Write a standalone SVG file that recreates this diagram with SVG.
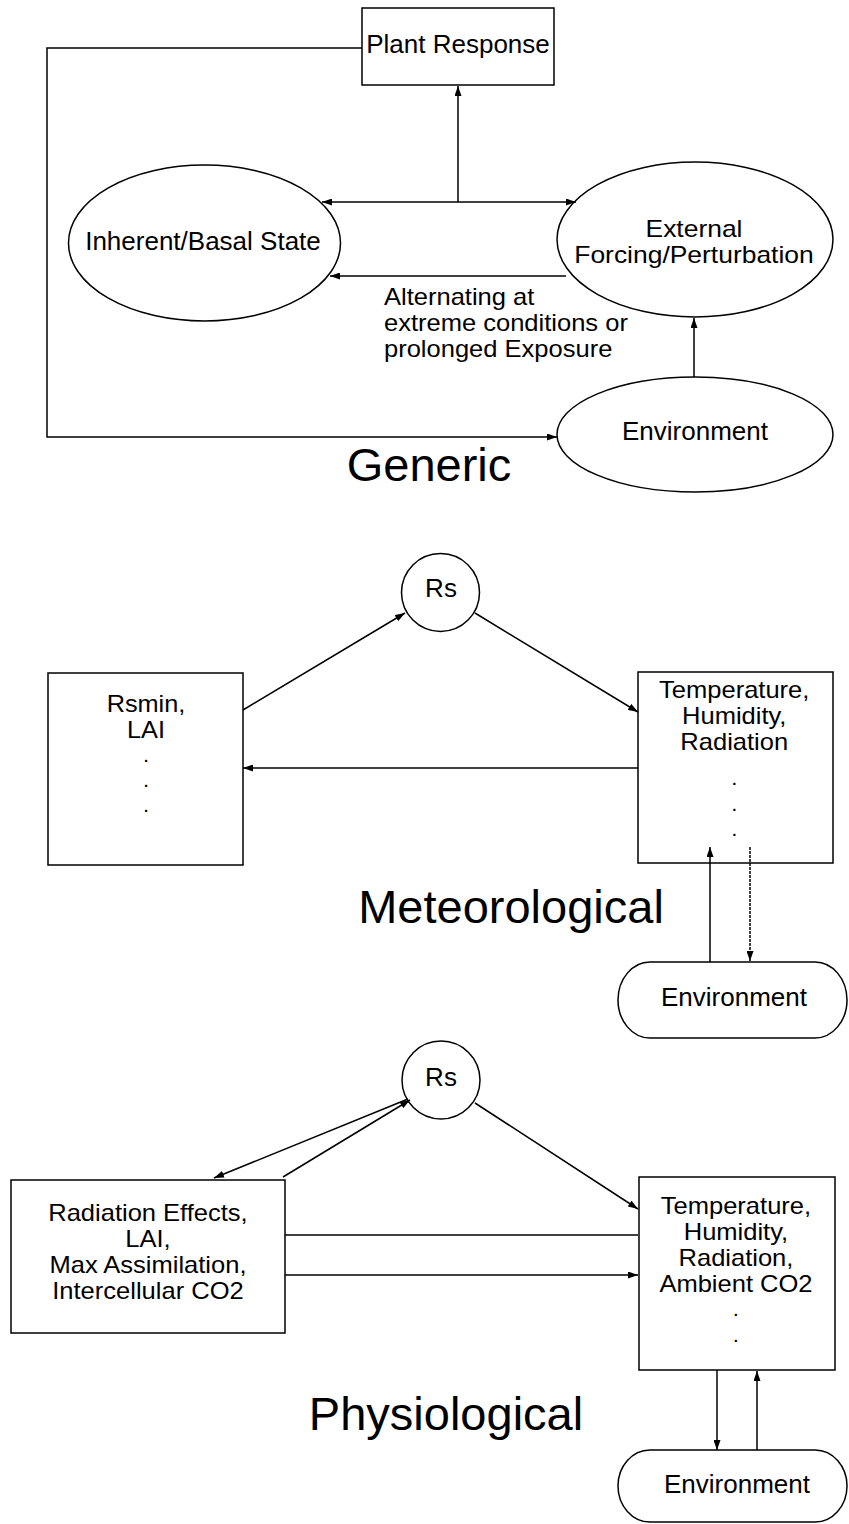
<svg xmlns="http://www.w3.org/2000/svg" width="849" height="1524" viewBox="0 0 849 1524">
<style>
.n{fill:#fff;stroke:#000;stroke-width:1.5}
.t{font-family:"Liberation Sans",Arial,sans-serif;font-size:26px;fill:#000;text-anchor:middle}
.m{font-family:"Liberation Sans",Arial,sans-serif;font-size:23px;fill:#000;text-anchor:middle}
.l{font-family:"Liberation Sans",Arial,sans-serif;font-size:23px;fill:#000}
.p{font-size:20px}
.h{font-family:"Liberation Sans",Arial,sans-serif;font-size:47px;fill:#000;text-anchor:middle}
.c{fill:none;stroke:#000;stroke-width:1.5}
.a{marker-end:url(#ar)}
.d{marker-start:url(#ar);marker-end:url(#ar)}
</style>
<defs>
<marker id="ar" viewBox="0 0 10 7" refX="10" refY="3.5" markerUnits="userSpaceOnUse" markerWidth="10" markerHeight="7" orient="auto-start-reverse">
<path d="M0,0 L10,3.5 L0,7 z" fill="#000"/>
</marker>
</defs>
<rect width="849" height="1524" fill="#fff"/>

<!-- Generic -->
<g id="plant-response">
<rect class="n" x="362" y="8" width="192" height="77"/>
<text class="t" x="458" y="53">Plant Response</text>
</g>
<g id="inherent-state">
<ellipse class="n" cx="204.5" cy="243" rx="136" ry="78"/>
<text class="t" x="203" y="250">Inherent/Basal State</text>
</g>
<g id="external-forcing">
<ellipse class="n" cx="695" cy="239.5" rx="138" ry="77.5"/>
<text class="m" transform="matrix(1.15,0,0,1,-104.1,0)" x="694" y="237"><tspan x="694">External</tspan><tspan x="694" dy="26">Forcing/Perturbation</tspan></text>
</g>
<g id="environment-generic">
<ellipse class="n" cx="695" cy="434.5" rx="138" ry="57.5"/>
<text class="t" x="695" y="440">Environment</text>
</g>
<g id="alternating-label">
<text class="l" transform="matrix(1.11,0,0,1,-42.24,0)" x="384" y="305"><tspan x="384">Alternating at</tspan><tspan x="384" dy="26">extreme conditions or</tspan><tspan x="384" dy="26">prolonged Exposure</tspan></text>
</g>
<text class="h" x="429" y="481">Generic</text>

<!-- Meteorological -->
<g id="rs-met">
<circle class="n" cx="440.5" cy="592.5" r="39"/>
<text class="t" x="441" y="597" font-size="24">Rs</text>
</g>
<g id="rsmin-box">
<rect class="n" x="48" y="673" width="195" height="192"/>
<text class="m" transform="matrix(1.1,0,0,1,-14.6,0)" x="146" y="712"><tspan x="146">Rsmin,</tspan><tspan x="146" dy="26">LAI</tspan><tspan class="p" x="146" dy="24">.</tspan><tspan class="p" x="146" dy="25">.</tspan><tspan class="p" x="146" dy="25">.</tspan></text>
</g>
<g id="weather-met">
<rect class="n" x="638" y="672" width="195" height="191"/>
<text class="m" transform="matrix(1.11,0,0,1,-81.6,0)" x="735" y="698"><tspan x="735">Temperature,</tspan><tspan x="735" dy="26">Humidity,</tspan><tspan x="735" dy="26">Radiation</tspan><tspan class="p" x="735" dy="35">.</tspan><tspan class="p" x="735" dy="26">.</tspan><tspan class="p" x="735" dy="25">.</tspan></text>
</g>
<g id="environment-met">
<rect class="n" x="618" y="962" width="229" height="76" rx="32" ry="38"/>
<text class="t" x="734" y="1006">Environment</text>
</g>
<text class="h" x="511" y="923">Meteorological</text>

<!-- Physiological -->
<g id="rs-phys">
<circle class="n" cx="441" cy="1080" r="39"/>
<text class="t" x="441" y="1086" font-size="24">Rs</text>
</g>
<g id="plant-box">
<rect class="n" x="11" y="1180" width="274" height="153"/>
<text class="m" transform="matrix(1.11,0,0,1,-16.3,0)" x="148" y="1221"><tspan x="148">Radiation Effects,</tspan><tspan x="148" dy="26">LAI,</tspan><tspan x="148" dy="26">Max Assimilation,</tspan><tspan x="148" dy="26">Intercellular CO2</tspan></text>
</g>
<g id="weather-phys">
<rect class="n" x="639" y="1177" width="196" height="193"/>
<text class="m" transform="matrix(1.11,0,0,1,-81,0)" x="736" y="1214"><tspan x="736">Temperature,</tspan><tspan x="736" dy="26">Humidity,</tspan><tspan x="736" dy="26">Radiation,</tspan><tspan x="736" dy="26">Ambient CO2</tspan><tspan class="p" x="736" dy="24">.</tspan><tspan class="p" x="736" dy="26">.</tspan></text>
</g>
<g id="environment-phys">
<rect class="n" x="618" y="1450" width="229" height="72" rx="32" ry="36"/>
<text class="t" x="737" y="1493">Environment</text>
</g>
<text class="h" x="446" y="1430">Physiological</text>

<g id="connectors">
<!-- Generic -->
<polyline class="c a" points="362,48 47,48 47,437 557,437"/>
<line class="c a" x1="458" y1="202" x2="458" y2="86"/>
<line class="c d" x1="322" y1="202" x2="576" y2="202"/>
<line class="c a" x1="566" y1="276" x2="330" y2="276"/>
<line class="c a" x1="694" y1="377" x2="694" y2="318"/>
<!-- Meteorological -->
<line class="c a" x1="243" y1="710" x2="405" y2="613"/>
<line class="c a" x1="475" y1="613" x2="638" y2="712"/>
<line class="c a" x1="638" y1="768" x2="243" y2="768"/>
<line class="c a" x1="710" y1="962" x2="710" y2="847"/>
<line class="c a" x1="750" y1="847" x2="750" y2="961" stroke-dasharray="3,1" stroke-width="1.2"/>
<!-- Physiological -->
<line class="c a" x1="408" y1="1099" x2="214" y2="1178"/>
<line class="c a" x1="283" y1="1177" x2="410" y2="1100"/>
<line class="c a" x1="475" y1="1103" x2="638" y2="1209"/>
<line class="c" x1="285" y1="1235" x2="638" y2="1235"/>
<line class="c a" x1="285" y1="1275" x2="638" y2="1275"/>
<line class="c a" x1="717" y1="1370" x2="717" y2="1450"/>
<line class="c a" x1="757" y1="1450" x2="757" y2="1371"/>
</g>
</svg>
